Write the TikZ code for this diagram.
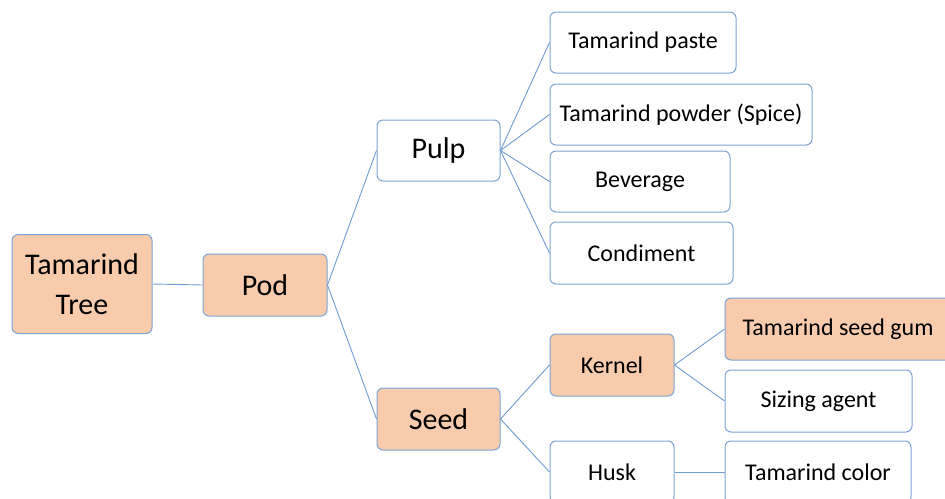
\documentclass[tikz,border=0pt]{standalone}
\usepackage{fontspec}
\setmainfont{Carlito}
\definecolor{peach}{RGB}{248,203,173}
\definecolor{edgeblue}{RGB}{125,163,212}
\definecolor{lineblue}{RGB}{110,155,210}
\begin{document}
\begin{tikzpicture}[x=1pt,y=-1pt,
  box/.style={draw=edgeblue,line width=1pt,rounded corners=6pt,fill=white,
    inner sep=0pt,anchor=center,font=\fontsize{24}{28}\selectfont,text=black},
  hot/.style={box,fill=peach},
  big/.style={font=\fontsize{30}{40}\selectfont},
  link/.style={draw=lineblue,line width=0.9pt}]
\clip (0,0) rectangle (945,498);
\node[hot,big,align=center,minimum width=140pt,minimum height=99pt] (tree) at (82,284) {Tamarind\\Tree};
\node[hot,big,minimum width=124pt,minimum height=62pt] (pod) at (265,285) {Pod};
\node[box,big,minimum width=123pt,minimum height=61pt] (pulp) at (438.5,150.5) {Pulp};
\node[hot,big,minimum width=123pt,minimum height=62pt] (seed) at (438.5,419) {Seed};
\node[box,minimum width=186pt,minimum height=61pt] (paste) at (643,42.5) {Tamarind paste};
\node[box,minimum width=262pt,minimum height=61pt] (powder) at (681,114.5) {Tamarind powder (Spice)};
\node[box,minimum width=180pt,minimum height=61pt] (bev) at (640,181.5) {Beverage};
\node[box,minimum width=183pt,minimum height=62pt] (cond) at (641.5,253) {Condiment};
\node[hot,minimum width=124pt,minimum height=62pt] (kernel) at (612,365) {Kernel};
\node[hot,minimum width=235pt,minimum height=62pt] (gum) at (842.5,329) {\hspace*{-9pt}Tamarind seed gum};
\node[box,minimum width=187pt,minimum height=62pt] (sizing) at (818.5,401) {Sizing agent};
\node[box,minimum width=124pt,minimum height=62pt] (husk) at (612,472) {Husk};
\node[box,minimum width=186pt,minimum height=62pt] (color) at (818,472) {Tamarind color};
\draw[link] (tree.east) -- (pod.west);
\draw[link] (pod.east) -- (pulp.west);
\draw[link] (pod.east) -- (seed.west);
\draw[link] (pulp.east) -- (paste.west);
\draw[link] (pulp.east) -- (powder.west);
\draw[link] (pulp.east) -- (bev.west);
\draw[link] (pulp.east) -- (cond.west);
\draw[link] (seed.east) -- (kernel.west);
\draw[link] (seed.east) -- (husk.west);
\draw[link] (kernel.east) -- (gum.west);
\draw[link] (kernel.east) -- (sizing.west);
\draw[link] (husk.east) -- (color.west);
\end{tikzpicture}
\end{document}
